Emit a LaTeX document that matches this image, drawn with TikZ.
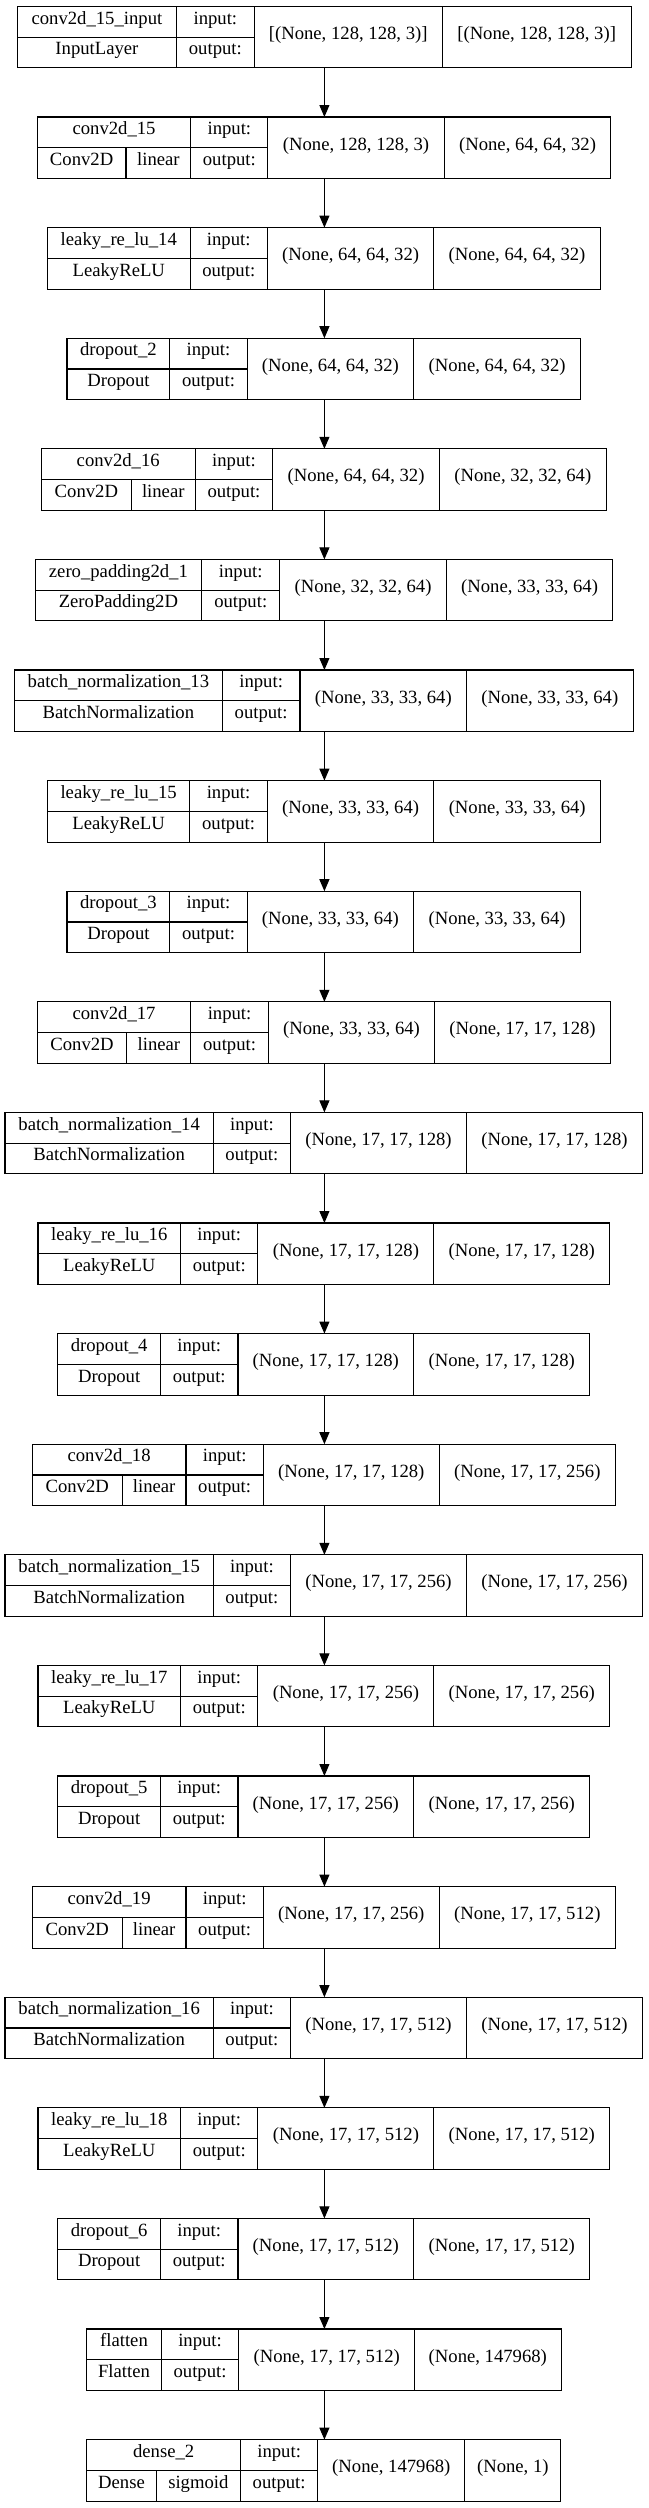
\documentclass[tikz,border=0pt]{standalone}
\usepackage{fontspec}
\setmainfont{Liberation Serif}
\usetikzlibrary{arrows.meta}
\tikzset{
  lbox/.style={draw=black, line width=1.1pt, rectangle, inner sep=0pt, outer sep=0pt, anchor=north west},
  cell/.style={draw=black, line width=1.1pt},
  lbl/.style={inner sep=0pt, text height=0.683em, text depth=0.217em, font=\fontsize{18.67}{22}\selectfont},
  arr/.style={draw=black, line width=1.1pt, -{Triangle[length=12pt, width=10pt]}},
}
\newcommand\lay[7]{%
  \pgfmathsetmacro\T{#2}\pgfmathsetmacro\B{#2+61.5}\pgfmathsetmacro\M{#2+30.75}%
  \pgfmathsetmacro\U{#2+15.4}\pgfmathsetmacro\D{#2+46.1}%
  \def\xL{#3}\def\xa{#4}\def\xb{#5}\def\xc{#6}\def\xR{#7}%
  \node[lbox, minimum width={(#7-#3)*1pt}, minimum height=61.5pt] (#1) at (#3,#2) {};
  \draw[cell] (#4,\T) -- (#4,\B) (#5,\T) -- (#5,\B) (#6,\T) -- (#6,\B) (#3,\M) -- (#5,\M);
}
\newcommand\plain[5]{%
  \node[lbl] (#1-n) at ({(\xL+\xa)/2},\U) {#2};
  \node[lbl] (#1-c) at ({(\xL+\xa)/2},\D) {#3};
  \node[lbl] (#1-i) at ({(\xa+\xb)/2},\U) {input:};
  \node[lbl] (#1-o) at ({(\xa+\xb)/2},\D) {output:};
  \node[lbl] (#1-s) at ({(\xb+\xc)/2},\M) {#4};
  \node[lbl] (#1-t) at ({(\xc+\xR)/2},\M) {#5};
}
\newcommand\act[7]{%
  \draw[cell] (#2,\M) -- (#2,\B);
  \node[lbl] (#1-n) at ({(\xL+\xa)/2},\U) {#3};
  \node[lbl] (#1-c) at ({(\xL+#2)/2},\D) {#4};
  \node[lbl] (#1-a) at ({(#2+\xa)/2},\D) {#5};
  \node[lbl] (#1-i) at ({(\xa+\xb)/2},\U) {input:};
  \node[lbl] (#1-o) at ({(\xa+\xb)/2},\D) {output:};
  \node[lbl] (#1-s) at ({(\xb+\xc)/2},\M) {#6};
  \node[lbl] (#1-t) at ({(\xc+\xR)/2},\M) {#7};
}
\begin{document}
\begin{tikzpicture}[x=1pt, y=-1pt]
\fill[white] (0,0) rectangle (648,2508);
\useasboundingbox (0,0) rectangle (648,2508);
\coordinate (ax) at (324.4,0);

\lay{b0}{6.4}{17.4}{176.5}{254.2}{442.2}{631.1}
\plain{b0}{conv2d\_15\_input}{InputLayer}{[(None, 128, 128, 3)]}{[(None, 128, 128, 3)]}

\lay{b1}{117}{37.2}{190.9}{267.8}{444.3}{610.8}
\act{b1}{126.0}{conv2d\_15}{Conv2D}{linear}{(None, 128, 128, 3)}{(None, 64, 64, 32)}

\lay{b2}{227.6}{47.5}{190.1}{267.4}{433.9}{600.1}
\plain{b2}{leaky\_re\_lu\_14}{LeakyReLU}{(None, 64, 64, 32)}{(None, 64, 64, 32)}

\lay{b3}{338.2}{67}{169.9}{247.1}{413.7}{580.6}
\plain{b3}{dropout\_2}{Dropout}{(None, 64, 64, 32)}{(None, 64, 64, 32)}

\lay{b4}{448.8}{41.3}{195.1}{272.8}{439.3}{606.3}
\act{b4}{131.4}{conv2d\_16}{Conv2D}{linear}{(None, 64, 64, 32)}{(None, 32, 32, 64)}

\lay{b5}{559.4}{35.1}{201.7}{279.8}{446.3}{612.9}
\plain{b5}{zero\_padding2d\_1}{ZeroPadding2D}{(None, 32, 32, 64)}{(None, 33, 33, 64)}

\lay{b6}{670}{14.5}{222.3}{300}{466.6}{633.1}
\plain{b6}{batch\_normalization\_13}{BatchNormalization}{(None, 33, 33, 64)}{(None, 33, 33, 64)}

\lay{b7}{780.6}{47.5}{189.7}{267.4}{433.9}{600.5}
\plain{b7}{leaky\_re\_lu\_15}{LeakyReLU}{(None, 33, 33, 64)}{(None, 33, 33, 64)}

\lay{b8}{891.2}{67}{169.9}{247.1}{413.7}{580.6}
\plain{b8}{dropout\_3}{Dropout}{(None, 33, 33, 64)}{(None, 33, 33, 64)}

\lay{b9}{1001.8}{37.2}{190.9}{268.2}{434.8}{610.4}
\act{b9}{126.9}{conv2d\_17}{Conv2D}{linear}{(None, 33, 33, 64)}{(None, 17, 17, 128)}

\lay{b10}{1112.4}{5}{213.3}{290.5}{466.6}{642.6}
\plain{b10}{batch\_normalization\_14}{BatchNormalization}{(None, 17, 17, 128)}{(None, 17, 17, 128)}

\lay{b11}{1223}{38}{180.6}{257.9}{433.9}{609.6}
\plain{b11}{leaky\_re\_lu\_16}{LeakyReLU}{(None, 17, 17, 128)}{(None, 17, 17, 128)}

\lay{b12}{1333.6}{57.9}{160.4}{238}{413.7}{589.7}
\plain{b12}{dropout\_4}{Dropout}{(None, 17, 17, 128)}{(None, 17, 17, 128)}

\lay{b13}{1444.2}{32.2}{186}{263.3}{439.3}{615.4}
\act{b13}{122.3}{conv2d\_18}{Conv2D}{linear}{(None, 17, 17, 128)}{(None, 17, 17, 256)}

\lay{b14}{1554.8}{5}{213.3}{290.5}{466.6}{642.6}
\plain{b14}{batch\_normalization\_15}{BatchNormalization}{(None, 17, 17, 256)}{(None, 17, 17, 256)}

\lay{b15}{1665.4}{38}{180.6}{257.9}{433.9}{609.6}
\plain{b15}{leaky\_re\_lu\_17}{LeakyReLU}{(None, 17, 17, 256)}{(None, 17, 17, 256)}

\lay{b16}{1776}{57.9}{160.4}{238}{413.7}{589.7}
\plain{b16}{dropout\_5}{Dropout}{(None, 17, 17, 256)}{(None, 17, 17, 256)}

\lay{b17}{1886.6}{32.2}{186}{263.3}{439.3}{615.4}
\act{b17}{122.3}{conv2d\_19}{Conv2D}{linear}{(None, 17, 17, 256)}{(None, 17, 17, 512)}

\lay{b18}{1997.2}{5}{213.3}{290.5}{466.6}{642.6}
\plain{b18}{batch\_normalization\_16}{BatchNormalization}{(None, 17, 17, 512)}{(None, 17, 17, 512)}

\lay{b19}{2107.8}{38}{180.6}{257.9}{433.9}{609.6}
\plain{b19}{leaky\_re\_lu\_18}{LeakyReLU}{(None, 17, 17, 512)}{(None, 17, 17, 512)}

\lay{b20}{2218.4}{57.9}{160.4}{238}{413.7}{589.7}
\plain{b20}{dropout\_6}{Dropout}{(None, 17, 17, 512)}{(None, 17, 17, 512)}

\lay{b21}{2329}{86.8}{161.2}{238.9}{414.5}{561.2}
\plain{b21}{flatten}{Flatten}{(None, 17, 17, 512)}{(None, 147968)}

\lay{b22}{2439.6}{86.8}{240.5}{317.8}{464.9}{560.8}
\act{b22}{156.2}{dense\_2}{Dense}{sigmoid}{(None, 147968)}{(None, 1)}

\foreach \i [evaluate=\i as \j using int(\i+1)] in {0,...,21}
  \draw[arr] (b\i.south -| ax) -- (b\j.north -| ax);
\end{tikzpicture}
\end{document}
